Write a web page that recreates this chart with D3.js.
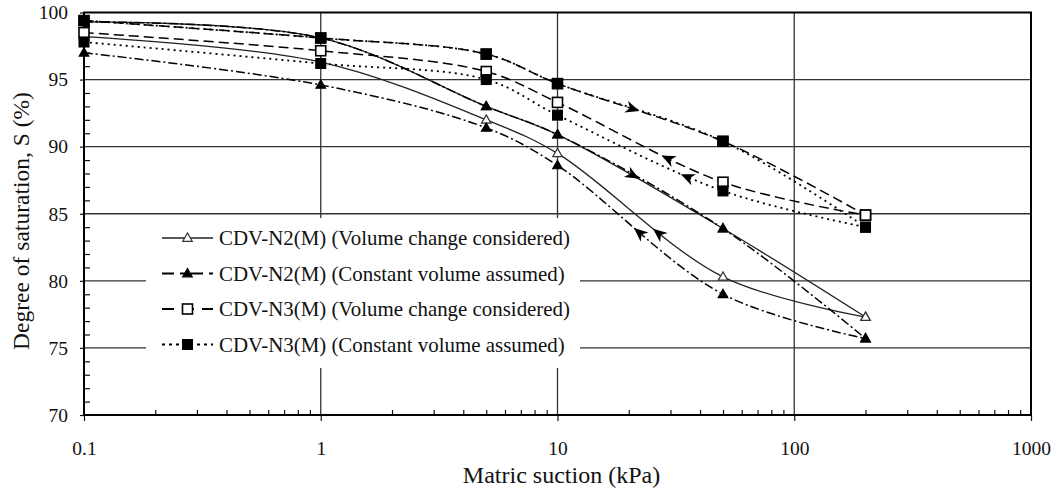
<!DOCTYPE html>
<html>
<head>
<meta charset="utf-8">
<script src="https://cdn.jsdelivr.net/npm/d3@7"></script>
<style>
  body { margin: 0; background: #fff; }
  svg text { font-family: "Liberation Serif", "Times New Roman", serif; fill: #111; }
</style>
</head>
<body>
<div id="chart"></div>
<script>
// suction steps (kPa), drying runs left to right, wetting comes back
const suction = [0.1, 1, 5, 10, 50, 200];

const n2VolDry = [99.3, 98.1, 93.0, 90.9, 83.9, 77.3];
const n2VolWet = [98.2, 96.3, 92.0, 89.5, 80.3, 77.3];
const n2ConDry = [99.3, 98.1, 93.0, 90.9, 83.9, 75.7];
const n2ConWet = [97.0, 94.6, 91.4, 88.6, 79.0, 75.7];
const n3VolDry = [99.4, 98.1, 96.9, 94.7, 90.4, 84.9];
const n3VolWet = [98.5, 97.15, 95.6, 93.3, 87.35, 84.9];
const n3ConDry = [99.4, 98.1, 96.9, 94.7, 90.4, 84.0];
const n3ConWet = [97.8, 96.2, 95.0, 92.35, 86.7, 84.0];

// where the direction arrows sit (kPa), [drying, wetting]
const n2VolArrows = [21, 26.5];
const n2ConArrows = [null, 22];
const n3VolArrows = [21, 29];
const n3ConArrows = [null, 35];

const legendLabels = [
  "CDV-N2(M) (Volume change considered)",
  "CDV-N2(M) (Constant volume assumed)",
  "CDV-N3(M) (Volume change considered)",
  "CDV-N3(M) (Constant volume assumed)"
];

const xMajor = [0.1, 1, 10, 100, 1000];
const yMajor = [70, 75, 80, 85, 90, 95, 100];

const W = 1055, H = 488;
const pLeft = 84, pRight = 1031, pTop = 12.5, pBottom = 415;

const svg = d3.select('#chart').append('svg')
  .attr('width', W)
  .attr('height', H);

const x = d3.scaleLog().domain([0.1, 1000]).range([pLeft, pRight]);
const y = d3.scaleLinear().domain([70, 100]).range([pBottom, pTop]);

// minor ticks
var xMinor = [];
[0.1, 1, 10, 100].forEach(function(d){
  for (var k = 2; k <= 9; k++) xMinor.push(d * k);
});
var yMinor = d3.range(71, 100).filter(function(v){ return v % 5 != 0; });

// grid
svg.append('g').selectAll('line')
  .data(xMajor.slice(1, -1)).enter().append('line')
  .attr('x1', d => x(d)).attr('x2', d => x(d))
  .attr('y1', pTop).attr('y2', pBottom)
  .attr('stroke', '#333').attr('stroke-width', 1.3);
svg.append('g').selectAll('line')
  .data(yMajor.slice(1, -1)).enter().append('line')
  .attr('x1', pLeft).attr('x2', pRight)
  .attr('y1', d => y(d)).attr('y2', d => y(d))
  .attr('stroke', '#333').attr('stroke-width', 1.3);

// axes
var yAxis = svg.append('g').attr('transform', 'translate(' + pLeft + ',0)')
  .call(d3.axisLeft(y).tickValues(yMajor).tickSize(4).tickSizeOuter(0).tickPadding(12));
var yAxisMinor = svg.append('g').attr('transform', 'translate(' + pLeft + ',0)')
  .call(d3.axisRight(y).tickValues(yMinor).tickSize(6).tickSizeOuter(0).tickFormat(''));
var xAxis = svg.append('g').attr('transform', 'translate(0,' + pBottom + ')')
  .call(d3.axisBottom(x).tickValues(xMajor).tickSize(6).tickSizeOuter(0).tickPadding(20)
    .tickFormat(d => String(d)));
var xAxisMinor = svg.append('g').attr('transform', 'translate(0,' + pBottom + ')')
  .call(d3.axisTop(x).tickValues(xMinor).tickSize(5).tickSizeOuter(0).tickFormat(''));

[yAxis, yAxisMinor, xAxis, xAxisMinor].forEach(function(g){
  g.select('.domain').remove();
  g.selectAll('.tick line').attr('stroke', '#111').attr('stroke-width', 1.2);
  g.selectAll('.tick text').style('font-size', '19.5px').attr('fill', '#111');
});

svg.append('rect')
  .attr('x', pLeft).attr('y', pTop)
  .attr('width', pRight - pLeft).attr('height', pBottom - pTop)
  .attr('fill', 'none').attr('stroke', '#000').attr('stroke-width', 2);

// axis titles
svg.append('text')
  .attr('x', (pLeft + pRight) / 2 + 4).attr('y', 483)
  .attr('text-anchor', 'middle')
  .style('font-size', '24px')
  .text('Matric suction (kPa)');
svg.append('text')
  .attr('transform', 'translate(29,' + 221 + ') rotate(-90)')
  .attr('text-anchor', 'middle')
  .style('font-size', '23.5px')
  .text('Degree of saturation, S (%)');

// series
var series = [
  { dry: n2VolDry, wet: n2VolWet, arrows: n2VolArrows, dash: null, marker: 'triOpen', width: 1.3, color: '#222' },
  { dry: n2ConDry, wet: n2ConWet, arrows: n2ConArrows, dash: '9,3,2,3', marker: 'triFill', width: 1.5, color: '#000' },
  { dry: n3VolDry, wet: n3VolWet, arrows: n3VolArrows, dash: '10,5', marker: 'sqOpen', width: 1.5, color: '#000' },
  { dry: n3ConDry, wet: n3ConWet, arrows: n3ConArrows, dash: '2,4', marker: 'sqFill', width: 1.8, color: '#000' }
];

var line = d3.line()
  .x(d => x(d[0]))
  .y(d => y(d[1]))
  .curve(d3.curveCatmullRom.alpha(0.5));

function drawMarker(g, type, cx, cy) {
  if (type == 'triOpen' || type == 'triFill') {
    var s = 9.5, h = s * 0.87;
    g.append('path')
      .attr('d', 'M' + cx + ',' + (cy - h * 0.6) + 'L' + (cx + s / 2) + ',' + (cy + h * 0.4) +
        'L' + (cx - s / 2) + ',' + (cy + h * 0.4) + 'Z')
      .attr('fill', type == 'triOpen' ? '#fff' : '#000')
      .attr('stroke', type == 'triOpen' ? '#333' : '#000')
      .attr('stroke-width', 1.2);
  } else {
    var a = 10;
    g.append('rect')
      .attr('x', cx - a / 2).attr('y', cy - a / 2)
      .attr('width', a).attr('height', a)
      .attr('fill', type == 'sqOpen' ? '#fff' : '#000')
      .attr('stroke', '#000')
      .attr('stroke-width', type == 'sqOpen' ? 1.6 : 1);
  }
}

function drawArrow(g, pathNode, xs, reverse) {
  var total = pathNode.getTotalLength();
  var tx = x(xs);
  var lo = 0, hi = total;
  for (var i = 0; i < 40; i++) {
    var mid = (lo + hi) / 2;
    if (pathNode.getPointAtLength(mid).x < tx) lo = mid; else hi = mid;
  }
  var p = pathNode.getPointAtLength(lo);
  var p1 = pathNode.getPointAtLength(Math.max(0, lo - 2));
  var p2 = pathNode.getPointAtLength(Math.min(total, lo + 2));
  var ang = Math.atan2(p2.y - p1.y, p2.x - p1.x) * 180 / Math.PI;
  if (reverse) ang += 180;
  g.append('path')
    .attr('d', 'M6,0L-8,-6L-4,0L-8,6Z')
    .attr('transform', 'translate(' + p.x + ',' + p.y + ') rotate(' + ang + ')')
    .attr('fill', '#000');
}

series.forEach(function(s){
  var g = svg.append('g');
  [s.dry, s.wet].forEach(function(vals, k){
    var pts = suction.map((d, i) => [d, vals[i]]);
    var path = g.append('path')
      .attr('d', line(pts))
      .attr('fill', 'none')
      .attr('stroke', s.color)
      .attr('stroke-width', s.width)
      .attr('stroke-dasharray', s.dash);
    if (s.arrows[k] != null) drawArrow(g, path.node(), s.arrows[k], k == 1);
  });
});

series.forEach(function(s){
  var g = svg.append('g');
  [s.dry, s.wet].forEach(function(vals){
    suction.forEach(function(d, i){
      drawMarker(g, s.marker, x(d), y(vals[i]));
    });
  });
});

// legend
var lg = svg.append('g');
lg.append('rect')
  .attr('x', 146).attr('y', 218).attr('width', 434).attr('height', 150)
  .attr('fill', '#fff');
series.forEach(function(s, i){
  var ry = 238 + i * 35.5;
  lg.append('line')
    .attr('x1', 162).attr('x2', 213)
    .attr('y1', ry).attr('y2', ry)
    .attr('stroke', s.color)
    .attr('stroke-width', s.width + 0.3)
    .attr('stroke-dasharray', s.dash == '2,4' ? '3,4' : s.dash == '9,3,2,3' ? '12,6,5,6' : s.dash == '10,5' ? '12,8' : null);
  drawMarker(lg, s.marker, 187.5, ry);
  lg.append('text')
    .attr('x', 219).attr('y', ry + 7)
    .style('font-size', '20.9px')
    .text(legendLabels[i]);
});
</script>
</body>
</html>
